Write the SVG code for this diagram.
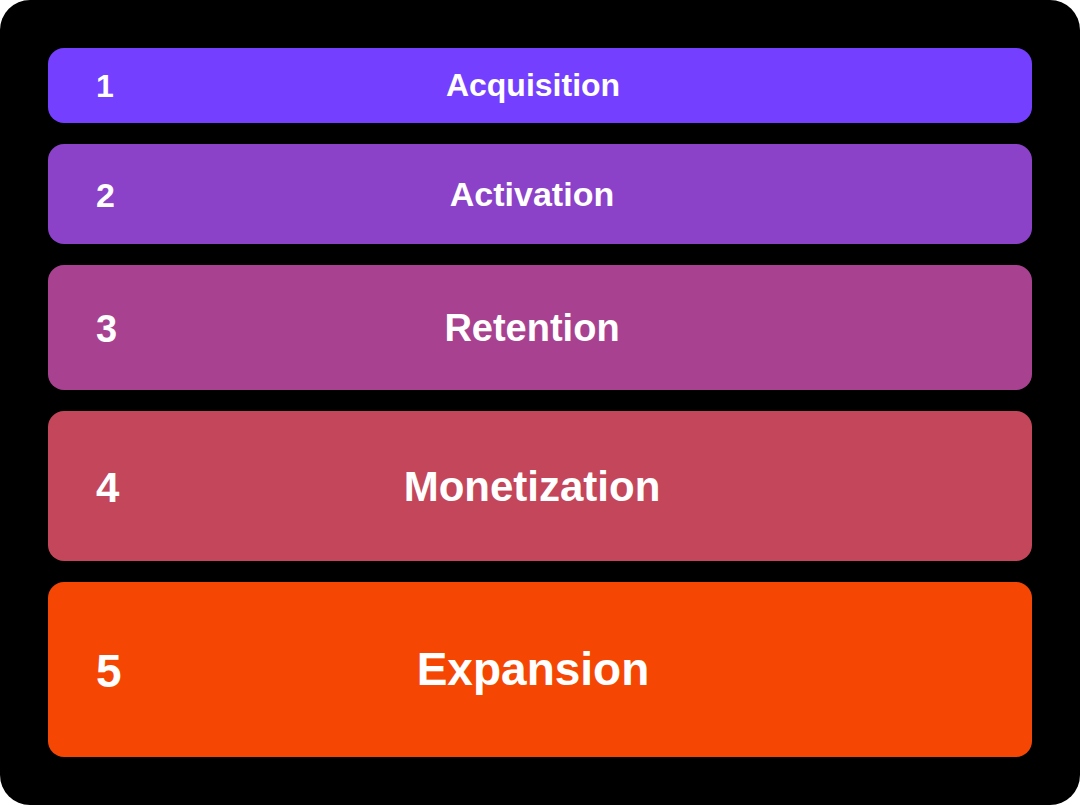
<svg xmlns="http://www.w3.org/2000/svg" width="1080" height="805" viewBox="0 0 1080 805">
<style>
.b{rx:16px}
text{font-family:"Liberation Sans",Arial,sans-serif;font-weight:bold;fill:#fff;dominant-baseline:central}
.c{text-anchor:middle}
</style>
<rect x="0" y="0" width="1080" height="805" rx="30" fill="#000"/>
<g id="n1"><rect x="48" y="48" width="984" height="75" rx="16" fill="#743ffe"/><text x="96" y="86" font-size="32">1</text><text class="c" x="533" y="85" font-size="32">Acquisition</text></g>
<g id="n2"><rect x="48" y="144" width="984" height="100" rx="16" fill="#8b41c8"/><text x="96" y="195" font-size="34">2</text><text class="c" x="532" y="194" font-size="34">Activation</text></g>
<g id="n3"><rect x="48" y="265" width="984" height="125" rx="16" fill="#a84290"/><text x="96" y="329" font-size="38">3</text><text class="c" x="532" y="328" font-size="38">Retention</text></g>
<g id="n4"><rect x="48" y="411" width="984" height="150" rx="16" fill="#c4465a"/><text x="96" y="487" font-size="42">4</text><text class="c" x="532" y="486" font-size="42">Monetization</text></g>
<g id="n5"><rect x="48" y="582" width="984" height="175" rx="16" fill="#f54703"/><text x="96" y="671" font-size="46">5</text><text class="c" x="533" y="669" font-size="46">Expansion</text></g>
<g id="connectors"/>
</svg>
